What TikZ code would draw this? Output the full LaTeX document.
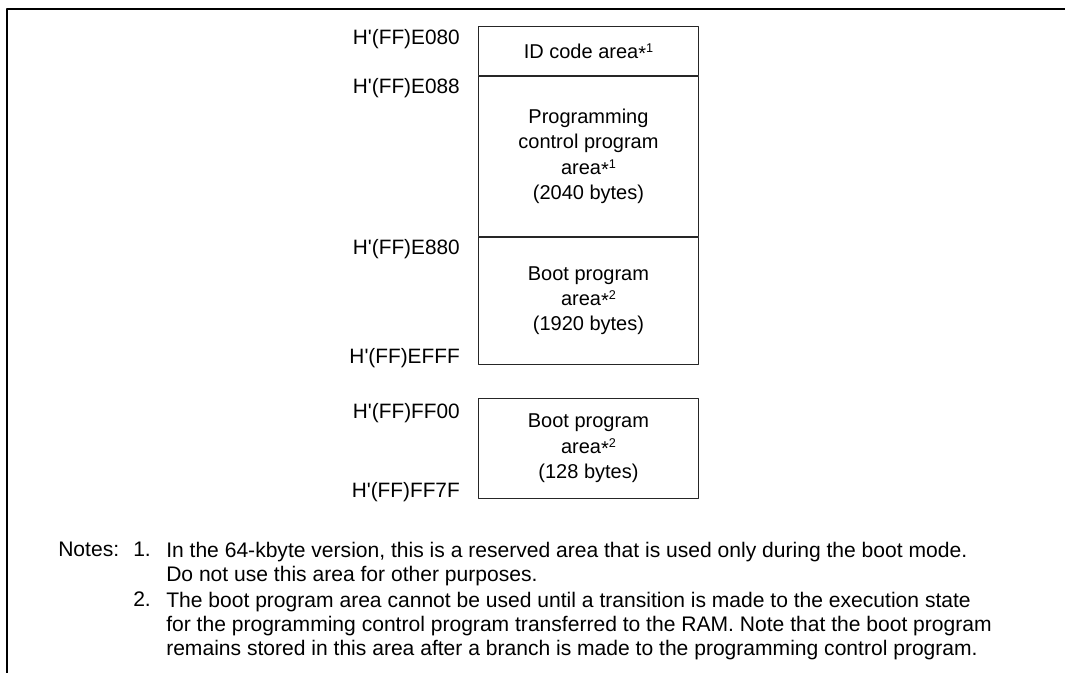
\documentclass[tikz,border=0pt]{standalone}
\usepackage{fontspec}
\setmainfont{Liberation Sans}
\usetikzlibrary{positioning}

\tikzset{
  area/.style={draw=black!85, line width=0.7pt, minimum width=165pt, inner sep=0pt, align=center,
    anchor=north west, font=\fontsize{15}{19}\selectfont},
  addr/.style={anchor=base east, inner sep=0pt, font=\fontsize{15.6}{19}\selectfont},
  note/.style={anchor=north west, inner sep=0pt, align=left, font=\fontsize{15.8}{18}\selectfont},
}
\newcommand{\noteref}[1]{\smash{\raisebox{4.5pt}{\fontsize{9.5}{9}\selectfont\raisebox{-6pt}{\fontsize{15}{15}\selectfont*}#1}}}
\newcommand{\hq}{\textquotesingle}

\begin{document}
\begin{tikzpicture}[x=0.75pt, y=-0.75pt, line join=round]
  \useasboundingbox (0,0) rectangle (1065,673);
  \draw[line width=1.6pt] (7,673) -- (7,9) -- (1065,9); % frame
  % memory areas
  \node[area, minimum height=36.75pt] (id) at (478,26) {ID code area\noteref1};
  \node[area, minimum height=120pt, below=0pt of id.south west, anchor=north west] (prog)
    {Programming\\control program\\area\noteref1\\(2040 bytes)};
  \node[area, minimum height=95.25pt, below=0pt of prog.south west, anchor=north west] (boot1)
    {Boot program\\area\noteref2\\(1920 bytes)};
  \node[area, minimum height=75pt, below=24.75pt of boot1.south west, anchor=north west] (boot2)
    {Boot program\\area\noteref2\\(128 bytes)};
  % addresses
  \foreach \n/\p/\dy/\t in {a1/id.north west/19/E080, a2/prog.north west/18/E088,
      a3/boot1.north west/18/E880, a4/boot1.south west/-1/EFFF,
      a5/boot2.north west/21/FF00, a6/boot2.south west/-1/FF7F}
    \node[addr] (\n) at ([shift={(-18,\dy)}]\p) {H\hq(FF)\t};
  % notes
  \node[note] (notes) at (58,542) {Notes:};
  \node[note] (k1) at (133,542) {1.};
  \node[note] (n1) at (166,542)
    {In the 64-kbyte version, this is a reserved area that is used only during the boot mode.\\
     Do not use this area for other purposes.};
  \node[note] (k2) at (133,592) {2.};
  \node[note] (n2) at (166,592)
    {The boot program area cannot be used until a transition is made to the execution state\\
     for the programming control program transferred to the RAM. Note that the boot program\\
     remains stored in this area after a branch is made to the programming control program.};
\end{tikzpicture}
\end{document}
